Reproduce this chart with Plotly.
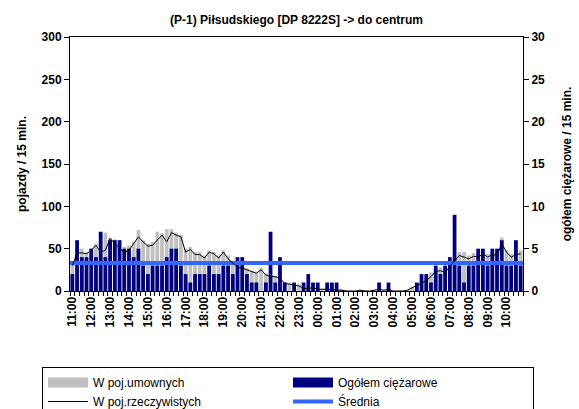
import plotly.graph_objects as go

hour_labels = ["11:00", "12:00", "13:00", "14:00", "15:00", "16:00", "17:00", "18:00",
               "19:00", "20:00", "21:00", "22:00", "23:00", "00:00", "01:00", "02:00",
               "03:00", "04:00", "05:00", "06:00", "07:00", "08:00", "09:00", "10:00"]

# W poj.umownych (left axis)
umowne = [31, 50, 50, 46, 50, 56, 60, 69, 63, 61, 60, 52, 54, 58, 72, 60,
          56, 58, 70, 68, 73, 73, 69, 66, 50, 52, 46, 46, 42, 48, 46, 42,
          48, 42, 36, 31, 29, 27, 24, 23, 27, 21, 19, 18, 17, 11, 10, 8,
          8, 4, 5, 5, 3, 3, 2, 3, 2, 2, 1, 0, 0, 1, 1, 0,
          1, 3, 1, 3, 0, 0, 0, 1, 5, 9, 13, 16, 22, 27, 28, 26,
          33, 38, 46, 46, 42, 45, 44, 48, 44, 47, 46, 63, 48, 44, 46, 48]

# W poj.rzeczywistych (left axis)
rzeczywiste = [30, 45, 45, 44, 48, 54, 46, 48, 62, 56, 50, 46, 48, 56, 64, 58,
               53, 54, 60, 66, 58, 69, 66, 64, 46, 49, 43, 43, 39, 46, 44, 39,
               46, 38, 33, 28, 27, 25, 23, 21, 25, 19, 17, 17, 15, 9, 8, 7,
               6, 3, 3, 4, 2, 2, 2, 2, 1, 1, 0, 0, 0, 1, 0, 0,
               1, 2, 1, 2, 0, 0, 0, 1, 4, 7, 9, 12, 17, 23, 24, 22,
               29, 35, 42, 40, 38, 41, 40, 44, 40, 43, 42, 56, 46, 40, 43, 44]

# Ogółem ciężarowe (right axis)
ciezarowe = [2, 6, 4, 4, 5, 4, 7, 4, 6, 6, 6, 5, 5, 4, 5, 3,
             2, 3, 3, 3, 4, 5, 5, 3, 2, 1, 2, 2, 2, 3, 2, 2,
             3, 3, 2, 4, 4, 2, 1, 1, 0, 1, 7, 1, 4, 1, 0, 1,
             0, 1, 2, 1, 1, 0, 1, 1, 1, 0, 0, 0, 0, 0, 0, 0,
             0, 1, 0, 1, 0, 0, 0, 0, 0, 1, 2, 2, 1, 3, 2, 3,
             4, 9, 3, 1, 3, 3, 5, 5, 3, 5, 5, 6, 3, 3, 6, 3]

srednia = 3.3

n = len(umowne)
idx = list(range(n))
FONT = "Liberation Sans, Arial, sans-serif"
GREY = "#C0C0C0"
NAVY = "#000080"
BLUE = "#3366FF"

fig = go.Figure()
fig.add_trace(go.Bar(x=idx, y=umowne, name="W poj.umownych", marker=dict(color=GREY, line=dict(width=0)),
                     width=0.8, yaxis="y", showlegend=False))
fig.add_trace(go.Bar(x=idx, y=ciezarowe, name="Ogółem ciężarowe", marker=dict(color=NAVY, line=dict(width=0)),
                     width=0.8, yaxis="y2", showlegend=False))
fig.add_trace(go.Scatter(x=[idx[0] - 0.5, idx[-1] + 0.5], y=[srednia, srednia], mode="lines",
                         name="Średnia", line=dict(color=BLUE, width=4), yaxis="y2",
                         legendrank=4))
fig.add_trace(go.Scatter(x=idx, y=rzeczywiste, mode="lines", name="W poj.rzeczywistych",
                         line=dict(color="black", width=1), yaxis="y3", legendrank=3))
# legend swatches for the bar series
fig.add_trace(go.Scatter(x=[None], y=[None], mode="lines", name="W poj.umownych",
                         line=dict(color=GREY, width=10), legendrank=1))
fig.add_trace(go.Scatter(x=[None], y=[None], mode="lines", name="Ogółem ciężarowe",
                         line=dict(color=NAVY, width=10), legendrank=2))

bold = dict(family=FONT, size=12, color="black", weight="bold")

fig.update_layout(
    width=579, height=409,
    margin=dict(l=70, r=56, t=37, b=118, autoexpand=False),
    paper_bgcolor="white", plot_bgcolor="white",
    barmode="overlay",
    hovermode=False,
    font=dict(family=FONT, size=12, color="black"),
    title=dict(text="(P-1) Piłsudskiego [DP 8222S] -> do centrum", font=bold,
               x=0.5, xref="paper", xanchor="center", y=1 - 20 / 409, yanchor="middle"),
    xaxis=dict(range=[-0.5, n - 0.5], tickmode="array", automargin=False,
               tickvals=[i * 4 for i in range(len(hour_labels))], ticktext=hour_labels,
               tickangle=-90, tickfont=bold, ticks="", showgrid=False, zeroline=False,
               showline=True, linecolor="black", linewidth=1, mirror=True,
               minor=dict(tickmode="linear", tick0=-0.5, dtick=1, ticks="outside",
                          ticklen=4, tickcolor="black", showgrid=False)),
    yaxis=dict(range=[0, 300], dtick=50, ticks="outside", ticklen=5, tickcolor="black",
               automargin=False,
               showline=True, linecolor="black", linewidth=1, showgrid=False, zeroline=False,
               tickfont=bold, title=dict(text="pojazdy / 15 min.", font=bold, standoff=12)),
    yaxis2=dict(range=[0, 30], dtick=5, ticks="outside", ticklen=5, tickcolor="black",
                overlaying="y", side="right", anchor="x", automargin=False,
                showline=True, linecolor="black", linewidth=1, showgrid=False, zeroline=False,
                tickfont=bold, title=dict(text="ogółem ciężarowe / 15 min.", font=bold, standoff=18)),
    yaxis3=dict(range=[0, 300], overlaying="y", visible=False),
    legend=dict(orientation="h", x=-28 / 453, y=-76 / 254, xanchor="left", yanchor="top",
                bordercolor="black", borderwidth=1, bgcolor="white",
                entrywidth=190, entrywidthmode="pixels", itemwidth=40,
                font=dict(family=FONT, size=12, color="black"), traceorder="normal"),
)

fig.write_html("out.html", config={"displayModeBar": False},
               post_script="document.body.style.margin='0';document.body.style.overflow='hidden';")
